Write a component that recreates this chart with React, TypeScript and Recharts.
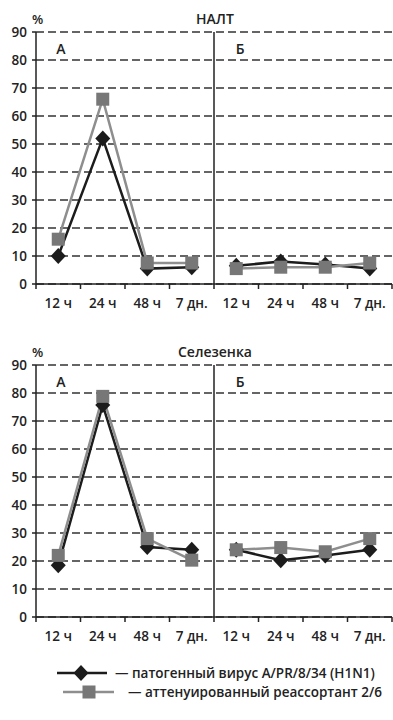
import { CartesianGrid, Line, LineChart, ReferenceLine, XAxis, YAxis } from 'recharts'

const timeLabels = ['12 ч', '24 ч', '48 ч', '7 дн.']
const yTicks = [0, 10, 20, 30, 40, 50, 60, 70, 80, 90]

// НАЛТ
const naltPathogenA = [10, 52, 5.5, 6]
const naltPathogenB = [6.5, 8, 7, 5.5]
const naltReassortA = [16, 66, 7.5, 7.5]
const naltReassortB = [5.5, 6, 6, 7.5]

// Селезенка
const spleenPathogenA = [18.5, 75.7, 25, 24]
const spleenPathogenB = [24, 20.3, 22, 24]
const spleenReassortA = [22, 78.8, 28, 20.3]
const spleenReassortB = [24, 24.8, 23.3, 28]

const FONT = '"Open Sans", sans-serif'
const INK = '#222'
const PATHOGEN = '#1c1c1c'
const REASSORT_LINE = '#8e8e8e'
const REASSORT_DOT = '#777'

const allLabels = [...timeLabels, ...timeLabels]
const xTicks = Array.from({ length: 17 }, (_, i) => i / 2 - 0.5)

const buildRows = (pA: number[], pB: number[], rA: number[], rB: number[]) =>
    allLabels.map((label, i) => ({
        x: i,
        label,
        pA: i < 4 ? pA[i] : null,
        pB: i >= 4 ? pB[i - 4] : null,
        rA: i < 4 ? rA[i] : null,
        rB: i >= 4 ? rB[i - 4] : null,
    }))

const Diamond = (props: any) => {
    const { cx, cy, key } = props
    if (cx == null || cy == null) return <g key={key} />
    return (
        <polygon
            key={key}
            points={`${cx},${cy - 8} ${cx + 7.5},${cy} ${cx},${cy + 8} ${cx - 7.5},${cy}`}
            fill={PATHOGEN}
        />
    )
}

const Square = (props: any) => {
    const { cx, cy, key } = props
    if (cx == null || cy == null) return <g key={key} />
    return <rect key={key} x={cx - 6.5} y={cy - 6.5} width={13} height={13} fill={REASSORT_DOT} />
}

const XTick = ({ x, y, payload }: any) => {
    const v = payload.value
    if (!Number.isInteger(v)) {
        return <line x1={x} x2={x} y1={y} y2={y + 5} stroke={INK} strokeWidth={1.5} />
    }
    return (
        <text x={x} y={y + 24} textAnchor="middle" fontFamily={FONT} fontSize={13.5} fontWeight={600} fill={INK}>
            {allLabels[v]}
        </text>
    )
}

const Panel = ({ title, rows }: { title: string, rows: ReturnType<typeof buildRows> }) => (
    <div style={{ position: 'relative', width: 393, height: 315 }}>
        <LineChart width={393} height={315} data={rows} margin={{ top: 32, right: 1, bottom: 0, left: 0 }}>
            <CartesianGrid vertical={false} stroke="#333" strokeWidth={1.5} strokeDasharray="8 4" />
            <XAxis
                dataKey="x"
                type="number"
                domain={[-0.5, 7.5]}
                ticks={xTicks}
                interval={0}
                height={31}
                tickSize={0}
                tickMargin={0}
                tickLine={false}
                tick={<XTick />}
                stroke={INK}
                strokeWidth={1.5}
            />
            <YAxis
                domain={[0, 90]}
                ticks={yTicks}
                interval={0}
                width={36}
                tickSize={4}
                tickMargin={5}
                stroke={INK}
                strokeWidth={1.5}
                tick={{ fontFamily: FONT, fontSize: 13.5, fontWeight: 600, fill: INK }}
            />
            <ReferenceLine x={3.5} stroke={INK} strokeWidth={1.5} />
            <Line dataKey="pA" stroke={PATHOGEN} strokeWidth={2.5} dot={Diamond} isAnimationActive={false} />
            <Line dataKey="pB" stroke={PATHOGEN} strokeWidth={2.5} dot={Diamond} isAnimationActive={false} />
            <Line dataKey="rA" stroke={REASSORT_LINE} strokeWidth={2.5} dot={Square} isAnimationActive={false} />
            <Line dataKey="rB" stroke={REASSORT_LINE} strokeWidth={2.5} dot={Square} isAnimationActive={false} />
        </LineChart>
        <svg width={393} height={60} style={{ position: 'absolute', left: 0, top: 0, pointerEvents: 'none' }}>
            <g fontFamily={FONT} fontWeight={600} fill={INK}>
                <text x={32} y={24} fontSize={13}>%</text>
                <text x={215} y={24} fontSize={14} textAnchor="middle">{title}</text>
                <text x={61} y={54} fontSize={14} textAnchor="middle">А</text>
                <text x={240} y={54} fontSize={14} textAnchor="middle">Б</text>
            </g>
        </svg>
    </div>
)

export default function App() {
    return (
        <div style={{ position: 'absolute', left: 0, top: 0, width: 393, height: 720, background: '#fff' }}>
            <Panel title="НАЛТ" rows={buildRows(naltPathogenA, naltPathogenB, naltReassortA, naltReassortB)} />
            <div style={{ height: 18 }} />
            <Panel title="Селезенка" rows={buildRows(spleenPathogenA, spleenPathogenB, spleenReassortA, spleenReassortB)} />
            <svg width={393} height={60} style={{ position: 'absolute', left: 0, top: 655 }}>
                <g fontFamily={FONT} fontWeight={600} fill={INK} fontSize={13.5}>
                    <line x1={57} x2={107} y1={18} y2={18} stroke={PATHOGEN} strokeWidth={2.5} />
                    <Diamond cx={81} cy={18} />
                    <text x={115} y={23}>— патогенный вирус A/PR/8/34 (H1N1)</text>
                    <line x1={63} x2={114} y1={37} y2={37} stroke={REASSORT_LINE} strokeWidth={2.5} />
                    <Square cx={89} cy={37} />
                    <text x={128} y={42}>— аттенуированный реассортант 2/6</text>
                </g>
            </svg>
        </div>
    )
}
